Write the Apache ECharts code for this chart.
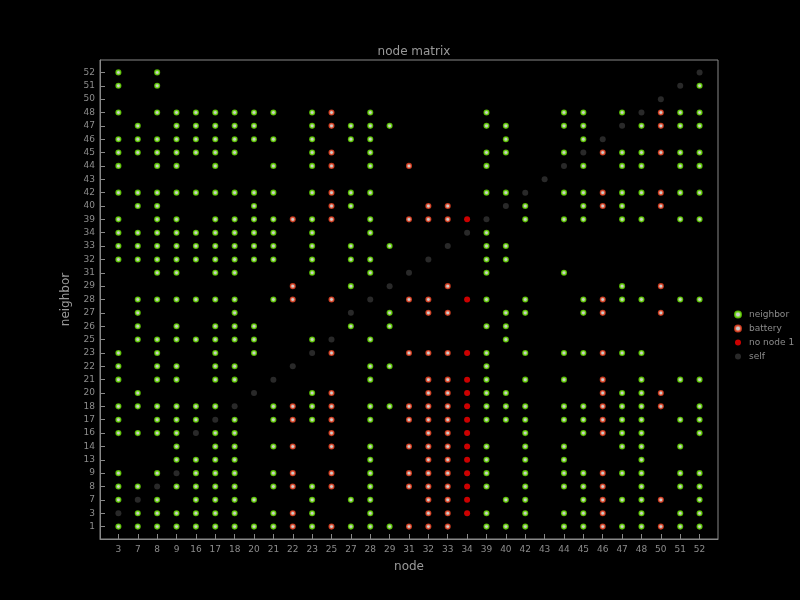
<!DOCTYPE html>
<html>
<head>
<meta charset="utf-8">
<script src="https://cdn.jsdelivr.net/npm/echarts@6/dist/echarts.min.js"></script>
<style>html,body{margin:0;padding:0;background:#000;}#c{width:800px;height:600px;}</style>
</head>
<body>
<div id="c"></div>
<script>
// x categories (node) and y categories (neighbor)
const xNodes = [3,7,8,9,16,17,18,20,21,22,23,25,27,28,29,31,32,33,34,39,40,42,43,44,45,46,47,48,50,51,52];
const yNeighbors = [1,3,7,8,9,13,14,16,17,18,20,21,22,23,25,26,27,28,29,31,32,33,34,39,40,42,43,44,45,46,47,48,50,51,52];

// each entry: [neighbor, [nodes...]]
const neighborRows = [
  [52, [3,8]],
  [51, [3,8,52]],
  [48, [3,8,9,16,17,18,20,21,23,28,39,44,45,47,51,52]],
  [47, [7,9,16,17,18,20,23,27,28,29,39,40,44,45,48,51,52]],
  [46, [3,7,8,9,16,17,18,20,21,23,27,28,40,45]],
  [45, [3,7,8,9,16,17,18,23,28,39,40,44,47,48,51,52]],
  [44, [3,8,9,17,21,23,28,39,45,47,48,51,52]],
  [42, [3,7,8,9,16,17,18,20,21,23,27,28,39,40,44,45,47,48,51,52]],
  [40, [7,8,20,27,42,45,47]],
  [39, [3,8,9,17,18,20,21,23,28,42,44,45,47,48,51,52]],
  [34, [3,7,8,9,16,17,18,20,21,23,28,39]],
  [33, [3,7,8,9,16,17,18,20,21,23,27,29,39,40]],
  [32, [3,7,8,9,16,17,18,20,21,23,27,28,39,40]],
  [31, [8,9,17,18,23,28,39,44]],
  [29, [27,47]],
  [28, [7,8,9,16,17,18,21,39,42,45,47,48,51,52]],
  [27, [7,18,29,40,42,45]],
  [26, [7,9,17,18,20,27,29,39,40]],
  [25, [7,8,9,16,17,18,20,23,28,40]],
  [23, [3,8,17,20,39,42,44,45,47,48]],
  [22, [3,8,9,17,18,28,29,39]],
  [21, [3,8,9,17,18,28,39,42,44,48,51,52]],
  [20, [7,23,39,40,47,48]],
  [18, [3,7,8,9,16,17,21,23,28,29,39,40,42,44,45,47,48,52]],
  [17, [3,8,9,16,18,21,23,28,39,40,42,44,45,47,48,51,52]],
  [16, [3,7,8,9,17,18,42,45,47,48,52]],
  [14, [9,17,18,21,28,39,42,44,47,48,51]],
  [13, [9,16,17,18,28,39,42,44,48]],
  [9,  [3,8,16,17,18,21,28,39,42,44,45,47,48,51,52]],
  [8,  [3,7,9,16,17,18,21,23,28,39,42,44,45,48,51,52]],
  [7,  [3,8,16,17,18,20,23,27,28,40,42,45,47,48,52]],
  [3,  [7,8,9,16,17,18,21,23,28,39,42,44,45,48,51,52]],
  [1,  [3,7,8,9,16,17,18,20,21,23,27,28,29,39,40,42,44,45,47,48,51,52]]
];

const batteryRows = [
  [48, [25,50]],
  [47, [25,50]],
  [45, [25,46,50]],
  [44, [25,31]],
  [42, [25,46,50]],
  [40, [25,32,33,46,50]],
  [39, [22,25,31,32,33]],
  [29, [22,33,50]],
  [28, [22,25,31,32,46]],
  [27, [32,33,46,50]],
  [23, [25,31,32,33,46]],
  [21, [32,33,46]],
  [20, [25,32,33,46,50]],
  [18, [22,25,31,32,33,46,50]],
  [17, [22,25,31,32,33,46]],
  [16, [25,32,33,46]],
  [14, [22,25,31,32,33]],
  [13, [32,33]],
  [9,  [22,25,31,32,33,46]],
  [8,  [22,25,31,32,33,46]],
  [7,  [32,33,46,50]],
  [3,  [22,32,33,46]],
  [1,  [22,25,31,32,33,46,50]]
];

const noNode1Rows = [
  [39, [34]], [28, [34]], [23, [34]], [21, [34]], [20, [34]], [18, [34]],
  [17, [34]], [16, [34]], [14, [34]], [13, [34]], [9, [34]], [8, [34]],
  [7, [34]], [3, [34]]
];

const selfNodes = [3,7,8,9,16,17,18,20,21,22,23,25,27,28,29,31,32,33,34,39,40,42,43,44,45,46,47,48,50,51,52];

function toPoints(rows) {
  const pts = [];
  rows.forEach(([nb, nodes]) => {
    nodes.forEach(n => pts.push([xNodes.indexOf(n), yNeighbors.indexOf(nb)]));
  });
  return pts;
}
const selfPoints = selfNodes.map(n => [xNodes.indexOf(n), yNeighbors.indexOf(n)]);

const xIdx = xNodes.map((_, i) => i);
const yIdx = yNeighbors.map((_, i) => i);
const txt = '#8c8c8c';

const chart = echarts.init(document.getElementById('c'));
chart.setOption({
  backgroundColor: '#000',
  animation: false,
  title: {
    text: 'node matrix',
    left: 409, top: 41, textAlign: 'center',
    textStyle: { color: '#999', fontSize: 12, fontWeight: 'normal', fontFamily: 'DejaVu Sans' }
  },
  legend: {
    orient: 'vertical', left: 729, top: 305, itemGap: 5,
    itemWidth: 6, itemHeight: 6,
    textStyle: { color: txt, fontSize: 9, fontFamily: 'DejaVu Sans', padding: [0, 0, 0, 3] },
    data: [
      { name: 'neighbor', icon: 'circle' },
      { name: 'battery', icon: 'circle' },
      { name: 'no node 1', icon: 'circle' },
      { name: 'self', icon: 'circle' }
    ]
  },
  grid: { left: 100, right: 82, top: 60, bottom: 61, show: true, borderColor: '#888', borderWidth: 1, backgroundColor: '#000' },
  xAxis: {
    type: 'value', min: -0.95, max: 30.95,
    name: 'node', nameLocation: 'middle', nameGap: 22,
    nameTextStyle: { color: '#999', fontSize: 12, fontFamily: 'DejaVu Sans' },
    axisLine: { show: true, onZero: false, lineStyle: { color: '#888' } },
    axisTick: { show: true, inside: true, length: 5, lineStyle: { color: '#888' }, customValues: xIdx },
    axisLabel: { color: txt, fontSize: 9, margin: 6, fontFamily: 'DejaVu Sans', customValues: xIdx, formatter: v => xNodes[Math.round(v)] },
    splitLine: { show: false }
  },
  yAxis: {
    type: 'value', min: -0.93, max: 34.93,
    name: 'neighbor', nameLocation: 'middle', nameGap: 28,
    nameTextStyle: { color: '#999', fontSize: 12, fontFamily: 'DejaVu Sans' },
    axisLine: { show: true, onZero: false, lineStyle: { color: '#888' } },
    axisTick: { show: true, inside: true, length: 5, lineStyle: { color: '#888' }, customValues: yIdx },
    axisLabel: { color: txt, fontSize: 9, margin: 5, fontFamily: 'DejaVu Sans', customValues: yIdx, formatter: v => yNeighbors[Math.round(v)] },
    splitLine: { show: false }
  },
  series: [
    {
      name: 'neighbor', type: 'scatter', symbol: 'circle', symbolSize: 4.5,
      itemStyle: { color: '#ffffff', borderColor: '#66dd00', borderWidth: 1.6 },
      data: toPoints(neighborRows)
    },
    {
      name: 'battery', type: 'scatter', symbol: 'circle', symbolSize: 4.5,
      itemStyle: { color: '#ffffff', borderColor: '#ee4422', borderWidth: 1.6 },
      data: toPoints(batteryRows)
    },
    {
      name: 'no node 1', type: 'scatter', symbol: 'circle', symbolSize: 6,
      itemStyle: { color: '#ff0000' },
      data: toPoints(noNode1Rows)
    },
    {
      name: 'self', type: 'scatter', symbol: 'circle', symbolSize: 6,
      itemStyle: { color: '#333333' },
      data: selfPoints
    }
  ]
});
</script>
</body>
</html>
